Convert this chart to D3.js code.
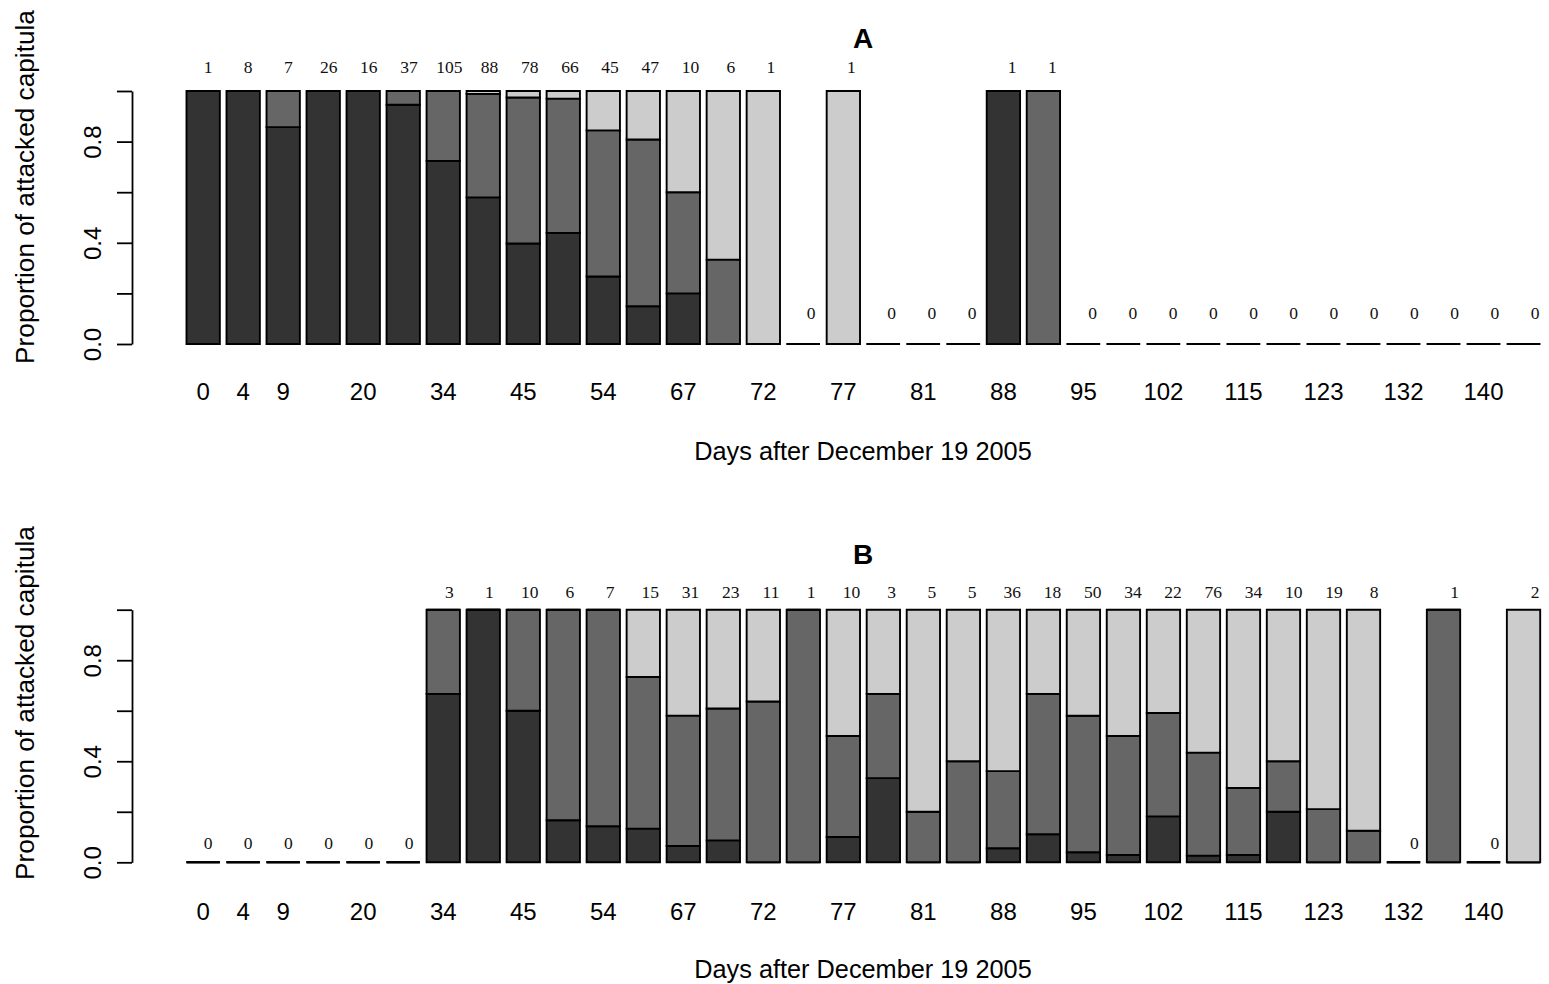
<!DOCTYPE html>
<html>
<head>
<meta charset="utf-8">
<script src="https://cdn.jsdelivr.net/npm/d3@7"></script>
<style>
  body { margin: 0; background: #ffffff; }
  svg { display: block; }
</style>
</head>
<body>
<svg id="chart" width="1549" height="984"></svg>
<script>
// Sampling dates (days after 19 Dec 2005); empty entries are dates whose label is not printed
const dayLabels = ["0","4","9","","20","","34","","45","","54","","67","","72","","77","","81","","88","","95","","102","","115","","123","","132","","140",""];

// Panel A: number of attacked capitula per date, split into three classes
const totalA = [1,8,7,26,16,37,105,88,78,66,45,47,10,6,1,0,1,0,0,0,1,1,0,0,0,0,0,0,0,0,0,0,0,0];
const class1A = [1,8,6,26,16,35,76,51,31,29,12,7,2,0,0,0,0,0,0,0,1,0,0,0,0,0,0,0,0,0,0,0,0,0];
const class2A = [0,0,1,0,0,2,29,36,45,35,26,31,4,2,0,0,0,0,0,0,0,1,0,0,0,0,0,0,0,0,0,0,0,0];
const class3A = [0,0,0,0,0,0,0,1,2,2,7,9,4,4,1,0,1,0,0,0,0,0,0,0,0,0,0,0,0,0,0,0,0,0];

// Panel B
const totalB = [0,0,0,0,0,0,3,1,10,6,7,15,31,23,11,1,10,3,5,5,36,18,50,34,22,76,34,10,19,8,0,1,0,2];
const class1B = [0,0,0,0,0,0,2,1,6,1,1,2,2,2,0,0,1,1,0,0,2,2,2,1,4,2,1,2,0,0,0,0,0,0];
const class2B = [0,0,0,0,0,0,1,0,4,5,6,9,16,12,7,1,4,1,1,2,11,10,27,16,9,31,9,2,4,1,0,1,0,0];
const class3B = [0,0,0,0,0,0,0,0,0,0,0,4,13,9,4,0,5,1,4,3,23,6,21,17,9,43,24,6,15,7,0,0,0,2];

const yTicks = [0, 0.2, 0.4, 0.6, 0.8, 1.0];
const yTickLabels = ["0.0", "", "0.4", "", "0.8", ""];

const fills = ["#333333", "#666666", "#cccccc"];
const sans = "'Liberation Sans', Arial, Helvetica, sans-serif";
const serif = "'Liberation Serif', 'Times New Roman', Times, serif";

const svg = d3.select("#chart");

const x = d3.scaleBand()
  .domain(d3.range(dayLabels.length))
  .range([186.5, 1540.2])
  .paddingInner(1 / 6)
  .paddingOuter(0);

// count labels sit on their own slightly wider grid
const labelX = d3.scaleLinear().domain([0, dayLabels.length - 1]).range([208, 1535]);

function drawPanel(cfg) {
  const y = d3.scaleLinear().domain([0, 1]).range([cfg.base, cfg.top]);
  const g = svg.append("g");

  // stacked proportion bars (zero-height segments still stroke as a line)
  cfg.totals.forEach((n, i) => {
    let cum = 0;
    cfg.classes.forEach((counts, k) => {
      const p = n > 0 ? counts[i] / n : 0;
      const y0 = y(cum), y1 = y(cum + p);
      const x0 = x(i), w = x.bandwidth();
      g.append("path")
        .attr("d", `M${x0},${y0}H${x0 + w}V${y1}H${x0}Z`)
        .attr("fill", fills[k])
        .attr("stroke", "#000")
        .attr("stroke-width", 1.9)
        .attr("stroke-linejoin", "miter");
      cum += p;
    });
  });

  // sample sizes above each bar
  g.selectAll("text.count")
    .data(cfg.totals)
    .join("text")
    .attr("class", "count")
    .attr("x", (d, i) => labelX(i))
    .attr("y", d => d > 0 ? y(1) - cfg.countGap : y(0) - cfg.zeroGap)
    .attr("text-anchor", "middle")
    .attr("font-family", serif)
    .attr("font-size", 17.5)
    .attr("fill", "#111")
    .text(d => d);

  // y axis
  const yAxis = d3.axisLeft(y)
    .tickValues(yTicks)
    .tickSize(15)
    .tickSizeOuter(0)
    .tickFormat((d, i) => yTickLabels[i]);
  const ga = g.append("g").attr("transform", "translate(132,0)").call(yAxis);
  ga.select(".domain").attr("stroke", "#000").attr("stroke-width", 1.8);
  ga.selectAll(".tick line").attr("stroke", "#000").attr("stroke-width", 1.8);
  ga.selectAll(".tick text")
    .attr("transform", "rotate(-90)")
    .attr("x", 0)
    .attr("y", -40)
    .attr("dy", "0.36em")
    .attr("text-anchor", "middle")
    .attr("font-family", sans)
    .attr("font-size", 24)
    .attr("fill", "#000");

  // x axis category labels
  const xAxis = d3.axisBottom(x).tickSize(0).tickFormat(i => dayLabels[i]);
  const gx = g.append("g").attr("transform", `translate(0,${cfg.tickBaseline})`).call(xAxis);
  gx.select(".domain").remove();
  gx.selectAll(".tick text")
    .attr("y", 0)
    .attr("dy", 0)
    .attr("font-family", sans)
    .attr("font-size", 24)
    .attr("fill", "#000");

  // axis titles and panel title
  g.append("text")
    .attr("x", 863)
    .attr("y", cfg.xTitleBaseline)
    .attr("text-anchor", "middle")
    .attr("font-family", sans)
    .attr("font-size", 25.3)
    .text("Days after December 19 2005");

  g.append("text")
    .attr("transform", `translate(25,${cfg.yTitleCenter}) rotate(-90)`)
    .attr("dy", "0.36em")
    .attr("text-anchor", "middle")
    .attr("font-family", sans)
    .attr("font-size", 26.2)
    .text("Proportion of attacked capitula");

  g.append("text")
    .attr("x", 863)
    .attr("y", cfg.titleBaseline)
    .attr("text-anchor", "middle")
    .attr("font-family", sans)
    .attr("font-weight", "bold")
    .attr("font-size", 28)
    .text(cfg.title);
}

drawPanel({
  title: "A",
  totals: totalA,
  classes: [class1A, class2A, class3A],
  base: 344, top: 91,
  countGap: 18.5, zeroGap: 25,
  tickBaseline: 400,
  xTitleBaseline: 460,
  yTitleCenter: 187,
  titleBaseline: 47.5
});

drawPanel({
  title: "B",
  totals: totalB,
  classes: [class1B, class2B, class3B],
  base: 862.3, top: 609.7,
  countGap: 12, zeroGap: 13.5,
  tickBaseline: 920,
  xTitleBaseline: 978,
  yTitleCenter: 703,
  titleBaseline: 563.5
});
</script>
</body>
</html>
